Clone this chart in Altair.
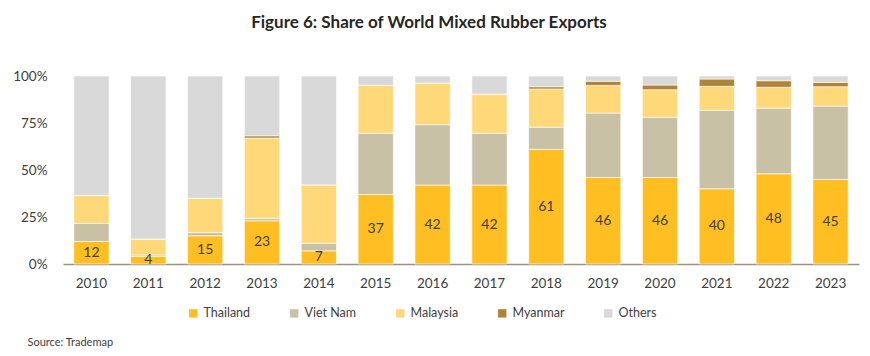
import altair as alt
import pandas as pd

years = [str(y) for y in range(2010, 2024)]
series = ["Thailand", "Viet Nam", "Malaysia", "Myanmar", "Others"]
colors = ["#FFBF22", "#C8C1A6", "#FFD87A", "#AF8439", "#D9D9D9"]

thailand = [12, 4, 15, 23, 7, 37, 42, 42, 61, 46, 46, 40, 48, 45]
viet_nam = [9.6, 0.8, 1.7, 1.3, 4.0, 32.6, 32.1, 27.6, 11.8, 34.3, 32.0, 41.7, 34.9, 39.0]
malaysia = [14.8, 8.5, 18.3, 42.7, 31.1, 25.4, 22.2, 20.5, 20.3, 14.7, 14.7, 12.8, 11.1, 10.3]
myanmar = [0, 0, 0, 1.2, 0, 0, 0, 0.3, 1.2, 2.2, 2.5, 3.9, 3.5, 2.3]
others = [63.6, 86.7, 65.0, 31.8, 57.9, 5.0, 3.7, 9.6, 5.7, 2.8, 4.8, 1.6, 2.5, 3.4]

rows = []
for i, y in enumerate(years):
    for k, (name, vals) in enumerate(zip(series, [thailand, viet_nam, malaysia, myanmar, others])):
        rows.append({"year": y, "series": name, "value": vals[i], "ord": k})
df = pd.DataFrame(rows)
lab = pd.DataFrame({"year": years, "value": thailand})

FONT = "Lato"
W, H = 796, 188

x = alt.X("year:N", title="Source: Trademap",
          scale=alt.Scale(paddingInner=0.38, paddingOuter=0.19),
          axis=alt.Axis(labelAngle=0, ticks=False, domainColor="#A09283", domainWidth=1.5,
                        labelPadding=12, labelFontSize=13.5, labelColor="#404040", labelFont=FONT,
                        titleX=-36, titleY=78, titleAlign="left", titleFontWeight="normal",
                        titleFontSize=11, titleColor="#404040", titleFont=FONT, titleBaseline="middle"))

bars = alt.Chart(df).mark_bar(stroke="white", strokeWidth=0.6).encode(
    x=x,
    y=alt.Y("value:Q", stack="zero", scale=alt.Scale(domain=[0, 100], nice=False),
            axis=alt.Axis(values=[0, 25, 50, 75, 100], labelExpr="datum.value + '%'", title=None,
                          domain=False, ticks=False, grid=False, labelPadding=16,
                          labelFontSize=13.5, labelColor="#404040", labelFont=FONT)),
    color=alt.Color("series:N", scale=alt.Scale(domain=series, range=colors),
                    legend=alt.Legend(title=None, orient="none", direction="horizontal",
                                      legendX=124, legendY=231, columns=5, columnPadding=37,
                                      symbolType="square", symbolSize=70, symbolStrokeWidth=0,
                                      labelFontSize=12.5, labelColor="#404040", labelFont=FONT,
                                      labelOffset=4, padding=0)),
    order=alt.Order("ord:Q", sort="ascending"),
)

text = alt.Chart(lab).transform_calculate(mid="datum.value / 2").mark_text(
    fontSize=14, color="#404040", font=FONT, baseline="middle"
).encode(
    x=alt.X("year:N"),
    y=alt.Y("mid:Q"),
    text=alt.Text("value:Q", format="d"),
)

chart = alt.layer(bars, text).properties(
    width=W, height=H,
    autosize=alt.AutoSizeParams(type="none"),
    padding={"left": 63, "top": 76, "right": 11, "bottom": 92},
    title=alt.TitleParams("Figure 6: Share of World Mixed Rubber Exports", fontSize=17,
                          font=FONT, fontWeight="bold", color="#262626", anchor="middle",
                          frame="group", dx=-32, offset=37),
).configure_view(stroke=None)

chart.save("out.html", embed_options={"renderer": "svg", "actions": False})
